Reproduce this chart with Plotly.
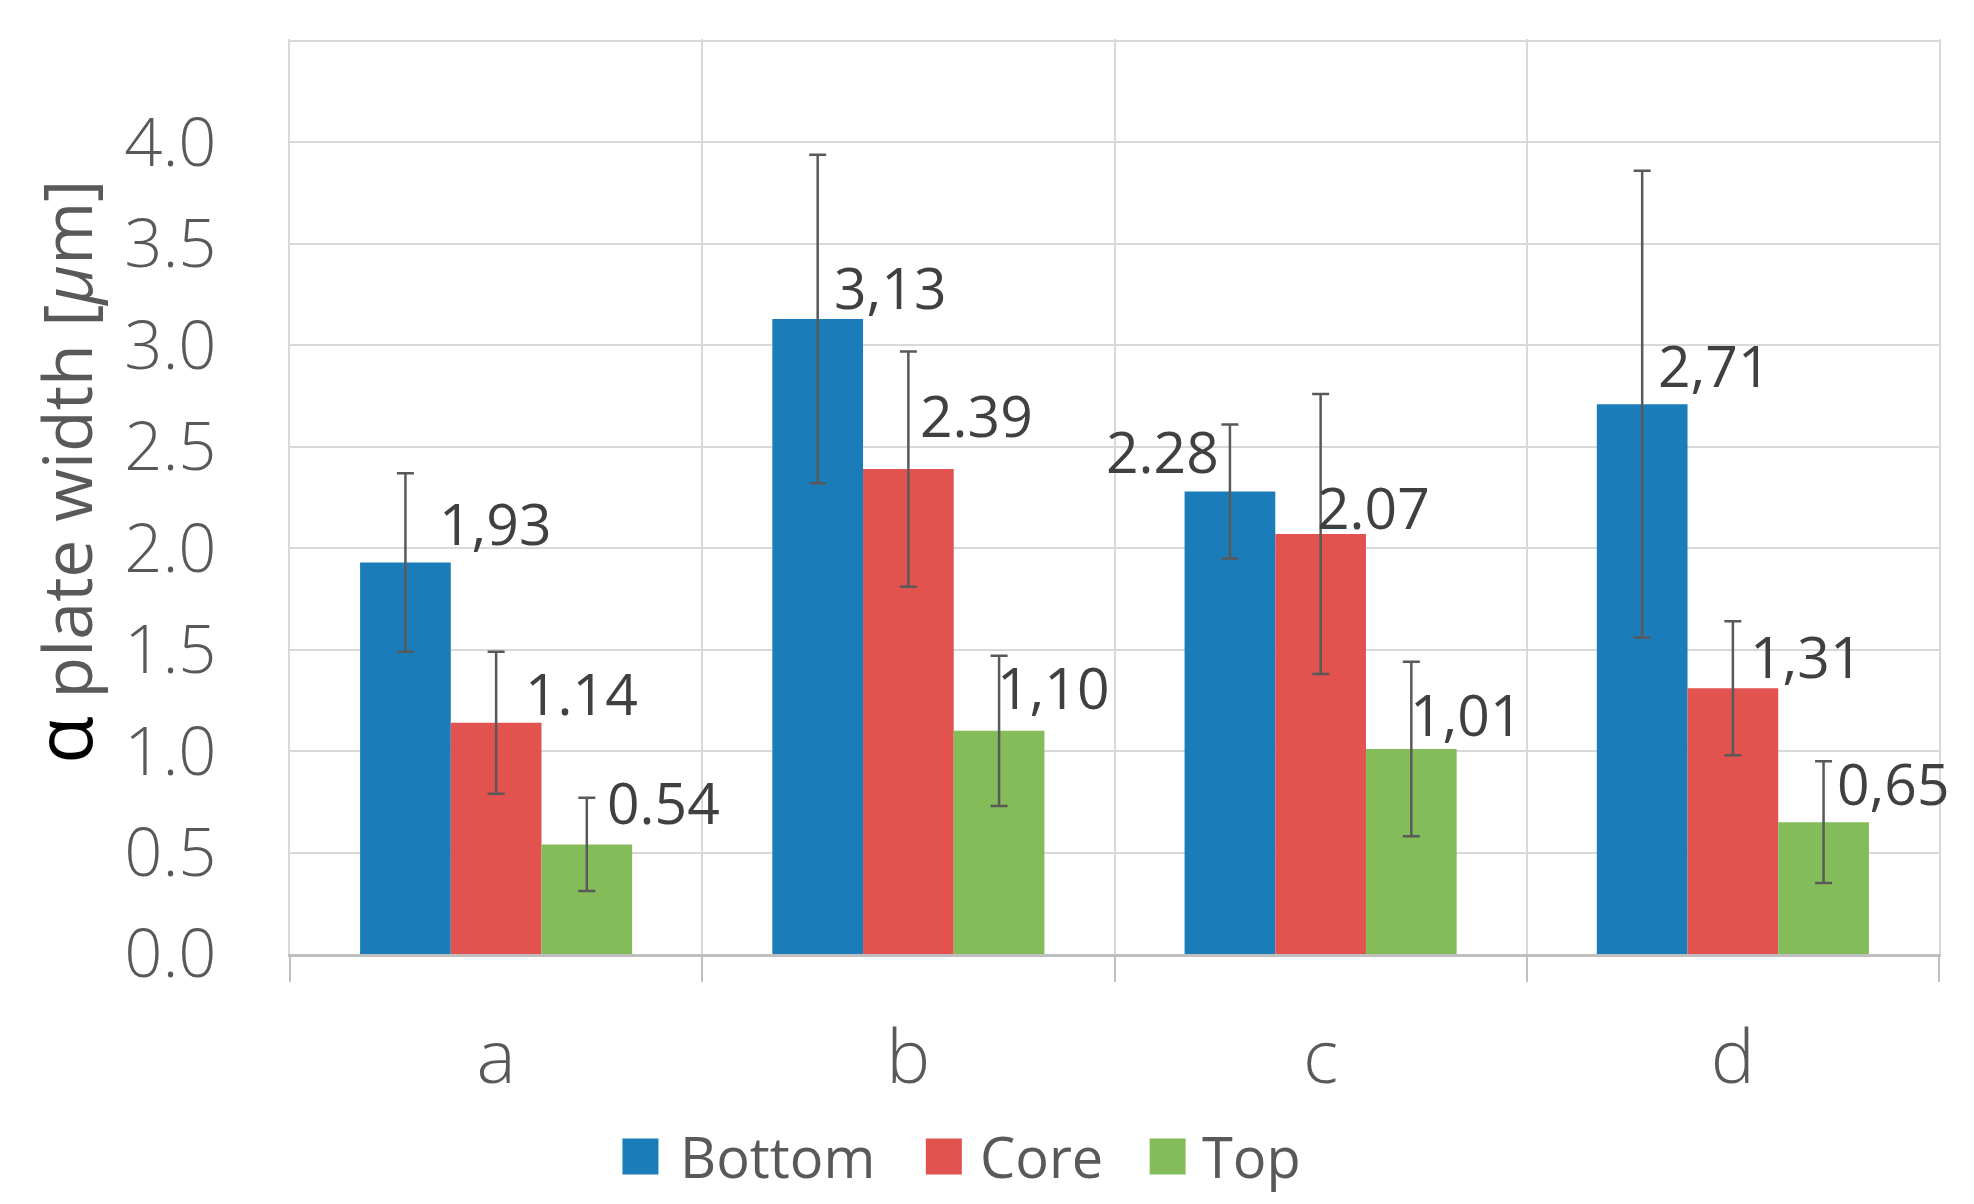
import plotly.graph_objects as go

# ---------------- data ----------------
categories = ['a', 'b', 'c', 'd']
series_names = ['Bottom', 'Core', 'Top']
bottom_values = [1.93, 3.13, 2.28, 2.71]
core_values = [1.14, 2.39, 2.07, 1.31]
top_values = [0.54, 1.10, 1.01, 0.65]
bottom_errors = [0.44, 0.81, 0.33, 1.15]
core_errors = [0.35, 0.58, 0.69, 0.33]
top_errors = [0.23, 0.37, 0.43, 0.30]
bottom_labels = ['1,93', '3,13', '2.28', '2,71']
core_labels = ['1.14', '2.39', '2.07', '1,31']
top_labels = ['0.54', '1,10', '1,01', '0,65']
y_tick_vals = [0.0, 0.5, 1.0, 1.5, 2.0, 2.5, 3.0, 3.5, 4.0, 4.5]
y_tick_text = ['0.0', '0.5', '1.0', '1.5', '2.0', '2.5', '3.0', '3.5', '4.0', '']
y_title = "<span style='color:#000000;font-size:78px'>α</span> plate width [<i>μ</i>m]"

values = [bottom_values, core_values, top_values]
errors = [bottom_errors, core_errors, top_errors]
labels = [bottom_labels, core_labels, top_labels]

# ---------------- style ----------------
colors = ['#1A7DBA', '#E2524F', '#84BC5A']
FONT = 'Open Sans'
GRID = '#D9D9D9'
AXIS = '#BFBFBF'
TXT = '#595959'
BARGAP = 0.34
# per-label pixel nudges (x, y) relative to bar centre / bar top
label_dx = [[32, 14, -9, 14], [27, 10, -6, 15], [18, -4, -3, 11]]
label_dy = [[39, 32, 40, 39], [30, 54, 27, 32], [42, 44, 35, 39]]
label_anchor = [['left', 'left', 'right', 'left'],
                ['left', 'left', 'left', 'left'],
                ['left', 'left', 'left', 'left']]
legend_sq_x = [0.2016, 0.3856, 0.5213]
legend_txt_x = [0.2355, 0.4171, 0.5517]
legend_y = -0.2212

fig = go.Figure()
for j, name in enumerate(series_names):
    fig.add_trace(go.Bar(
        x=categories, y=values[j], name=name,
        marker=dict(color=colors[j], line=dict(width=0)),
        error_y=dict(type='data', array=errors[j], visible=True,
                     color='#595959', thickness=2.5, width=8.5),
        showlegend=False,
    ))

# data labels
bar_w = (1 - BARGAP) / len(series_names)
for j in range(len(series_names)):
    off = (j - (len(series_names) - 1) / 2) * bar_w
    for i, cat in enumerate(categories):
        fig.add_annotation(
            x=i + off, y=values[j][i], xref='x', yref='y',
            text=labels[j][i], showarrow=False,
            xanchor=label_anchor[j][i], yanchor='middle',
            xshift=label_dx[j][i], yshift=label_dy[j][i],
            font=dict(family=FONT, size=57, color='#404040'),
        )

# legend (large square swatches like the original)
sq_w = 36 / 1649
sq_h = 36 / 915
for j, name in enumerate(series_names):
    fig.add_shape(type='rect', xref='paper', yref='paper',
                  x0=legend_sq_x[j], x1=legend_sq_x[j] + sq_w,
                  y0=legend_y - sq_h / 2, y1=legend_y + sq_h / 2,
                  fillcolor=colors[j], line=dict(width=0))
    fig.add_annotation(x=legend_txt_x[j], y=legend_y, xref='paper', yref='paper',
                       text=name, showarrow=False, xanchor='left', yanchor='middle',
                       font=dict(family=FONT, size=56, color=TXT))

# y-axis title
fig.add_annotation(x=-0.1383, y=0.527, xref='paper', yref='paper',
                   text=y_title, textangle=-90, showarrow=False,
                   xanchor='center', yanchor='middle',
                   font=dict(family=FONT, size=68, color=TXT))

fig.update_layout(
    width=1974, height=1204, autosize=False,
    margin=dict(l=282, r=43, t=31, b=258),
    paper_bgcolor='white', plot_bgcolor='white',
    barmode='group', bargap=BARGAP, bargroupgap=0,
    showlegend=False,
    font=dict(family=FONT, color=TXT),
)
fig.update_xaxes(
    type='category', range=[-0.5, len(categories) - 0.5],
    tickson='boundaries', ticks='outside', ticklen=25,
    tickcolor=AXIS, tickwidth=2,
    showgrid=True, gridcolor=GRID, gridwidth=2,
    showline=True, linecolor=AXIS, linewidth=2.5,
    tickfont=dict(family=FONT, size=74, color=TXT, weight=300),
    ticklabelstandoff=37,
)
fig.update_yaxes(
    range=[0, 4.51], tickvals=y_tick_vals, ticktext=y_tick_text,
    showgrid=True, gridcolor=GRID, gridwidth=2, zeroline=False,
    showline=True, linecolor=GRID, linewidth=2, mirror=True,
    ticks='', ticklabelstandoff=58,
    tickfont=dict(family=FONT, size=67, color=TXT, weight=300),
    automargin=False,
)

fig.write_html('out.html')
